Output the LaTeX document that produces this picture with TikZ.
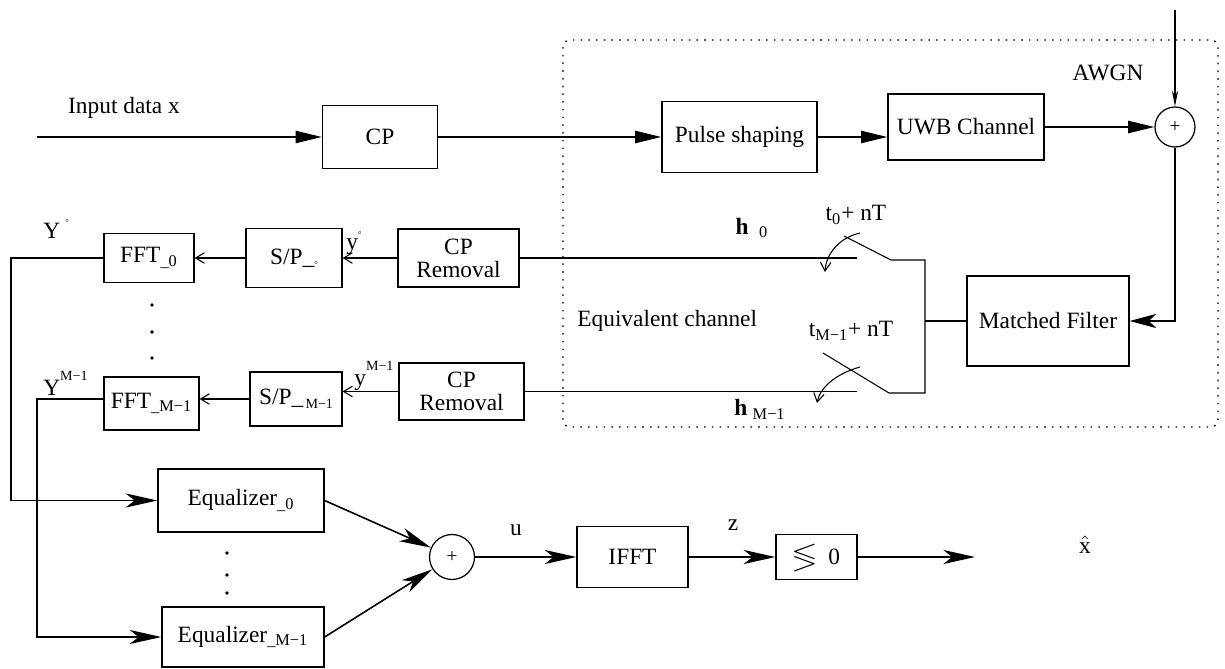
\documentclass[tikz,border=0pt]{standalone}
\usepackage{amssymb}
\usepackage{fontspec}
\setmainfont{Liberation Serif}
\usetikzlibrary{arrows.meta,calc}
\begin{document}
\begin{tikzpicture}[x=0.02cm,y=-0.02cm,
  every node/.style={font=\fontsize{13.3pt}{13pt}\selectfont, inner sep=0pt},
  blk/.style={draw, line width=0.75pt, align=center},
  sum/.style={draw, circle, line width=0.7pt, font=\fontsize{11pt}{11pt}\selectfont},
  ln/.style={line width=0.6pt},
  dl/.style={line width=0.9pt},
  tri/.style={dl,-{Triangle[length=15pt,width=7pt]}},
  stl/.style={dl,-{Stealth[length=18pt,width=8pt,inset=5pt]}},
  brb/.style={ln,-{Straight Barb[length=5pt,width=6pt]}},
  dotp/.style={fill, circle, minimum size=2.4pt}]
\useasboundingbox (0,0) rectangle (1225,669);

% equivalent channel frame
\draw[line width=0.8pt, dash pattern=on 0.9pt off 3.5pt, rounded corners=4pt] (563,40) rectangle (1218,427);

% blocks
\node[blk, minimum width=2.3cm,  minimum height=1.26cm] (cp)   at (380,137)     {CP};
\node[blk, minimum width=3.1cm,  minimum height=1.42cm] (ps)   at (739.5,137)   {Pulse shaping};
\node[blk, minimum width=3.12cm, minimum height=1.32cm] (uwb)  at (966,127)     {UWB Channel};
\node[blk, minimum width=3.24cm, minimum height=1.8cm]  (mf)   at (1048,321)    {Matched Filter};
\node[blk, minimum width=2.42cm, minimum height=1.16cm] (cpr0) at (458.5,258)   {CP\\Removal};
\node[blk, minimum width=2.5cm,  minimum height=1.14cm] (cpr1) at (461.5,391.5) {CP\\Removal};
\node[blk, minimum width=1.92cm, minimum height=1.18cm] (sp0)  at (294,258)     {S/P\_\raisebox{-0.3ex}{\tiny °}};
\node[blk, minimum width=1.84cm, minimum height=1.08cm] (sp1)  at (296,399)     {S/P\_\raisebox{-0.4ex}{\footnotesize\,M−1}};
\node[blk, minimum width=1.8cm,  minimum height=0.98cm] (fft0) at (149,258)     {FFT\textsubscript{\_0}};
\node[blk, minimum width=1.9cm,  minimum height=1.06cm] (fft1) at (151.5,403.5) {FFT\textsubscript{\_M−1}};
\node[blk, minimum width=3.32cm, minimum height=1.26cm] (eq0)  at (241,500.5)   {Equalizer\textsubscript{\_0}};
\node[blk, minimum width=3.24cm, minimum height=1.2cm]  (eq1)  at (243,637)     {Equalizer\textsubscript{\_M−1}};
\node[blk, minimum width=2.22cm, minimum height=1.22cm] (ifft) at (632.5,557)   {IFFT};
\node[blk, minimum width=1.62cm, minimum height=0.9cm]  (cmp)  at (816.5,557)
  {{\fontsize{17pt}{17pt}\selectfont$\lessgtr$}\hspace{7pt}0};
\node[sum, minimum size=0.8cm] (add1) at (1175,127) {+};
\node[sum, minimum size=0.9cm] (add2) at (452,557) {+};

% coordinates
\coordinate (in)  at (37,137);
\coordinate (nz)  at (1175,10);
\coordinate (out) at (975,557);
\coordinate (l0)  at (11,0);
\coordinate (l1)  at (37,0);
\coordinate (c0)  at (857,258);
\coordinate (c1)  at (857,391.5);
\coordinate (b0s) at (844,236);
\coordinate (b0e) at (891,260);
\coordinate (jt)  at (925,260);
\coordinate (jm)  at (925,321);
\coordinate (jb)  at (925,393);
\coordinate (b1e) at (889,393);
\coordinate (b1s) at (823,353);

% transmitter chain
\draw[tri] (in) -- (cp.west);
\draw[tri] (cp.east) -- (ps.west);
\draw[tri] (ps.east) -- (ps.east -| uwb.west);
\draw[tri] (uwb.east) -- (add1.west);
\draw[ln,-{Stealth[length=9pt,width=3.5pt]}] (nz) -- (add1.north);
\draw[dl,-{Stealth[length=15pt,width=8pt,inset=4pt]}] (add1.south) |- (mf.east);

% sampling switches
\draw[ln] (mf.west) -- (jm);
\draw[ln] (b0s) -- (b0e) -- (jt) -- (jb) -- (b1e) -- (b1s);
\draw[ln] (cpr0.east) -- (c0);
\draw[ln] (cpr1.east) -- (c1);
\draw[brb] (860,233) .. controls (838,238) and (826,255) .. (825,272);
\draw[brb] (860,367) .. controls (835,374) and (820,388) .. (817,403);

% receiver branches
\draw[brb] (cpr0.west) -- (sp0.east);
\draw[brb] (sp0.west) -- (fft0.east);
\draw[brb] (cpr1.west) -- (cpr1.west -| sp1.east);
\draw[brb] (sp1.west) -- (sp1.west -| fft1.east);
\draw[stl] (fft0.west) -- (fft0.west -| l0) |- (eq0.west);
\draw[stl] (fft1.west |- sp1.west) -- (l1 |- sp1.west) |- (eq1.west);
\draw[stl] (eq0.east) -- (add2);
\draw[stl] (eq1.east) -- (add2);
\draw[stl] (add2.east) -- (ifft.west);
\draw[stl] (ifft.east) -- (cmp.west);
\draw[stl] (cmp.east) -- (out);

% labels
\node (tin)  at (124,108) {Input data x};
\node (tawgn) at (1108,73) {AWGN};
\node[anchor=west] (teq) at (577,321) {Equivalent channel};
\node (th0) at (752,228) {\textbf{h}\hspace{6pt}\textsubscript{0}};
\node (th1) at (760,409) {\textbf{h}\hspace{3pt}\textsubscript{M−1}};
\node (tt0) at (856,215) {t\textsubscript{0}+ nT};
\node (tt1) at (851,331) {t\textsubscript{M−1}+ nT};
\node[anchor=base west] (tY0) at (43,238) {Y\hspace{3pt}\raisebox{7pt}{\tiny °}};
\node[anchor=base west] (ty0) at (346,250) {y\raisebox{7pt}{\tiny °}};
\node[anchor=base west] (tY1) at (43,395) {Y\raisebox{8pt}{\footnotesize M−1}};
\node[anchor=base west] (ty1) at (354,385) {y\raisebox{8pt}{\footnotesize M−1}};
\node (tu) at (516,530) {u};
\node (tz) at (733,525) {z};
\node (tx) at (1085,545) {$\hat{\mbox{x}}$};

% ellipsis dots
\foreach \yy [count=\i] in {305,332,358} \node[dotp, minimum size=2pt] (dl\i) at (152,\yy) {};
\foreach \yy [count=\i] in {553,575,593} \node[dotp, minimum size=2pt] (de\i) at (227,\yy) {};
\end{tikzpicture}
\end{document}
